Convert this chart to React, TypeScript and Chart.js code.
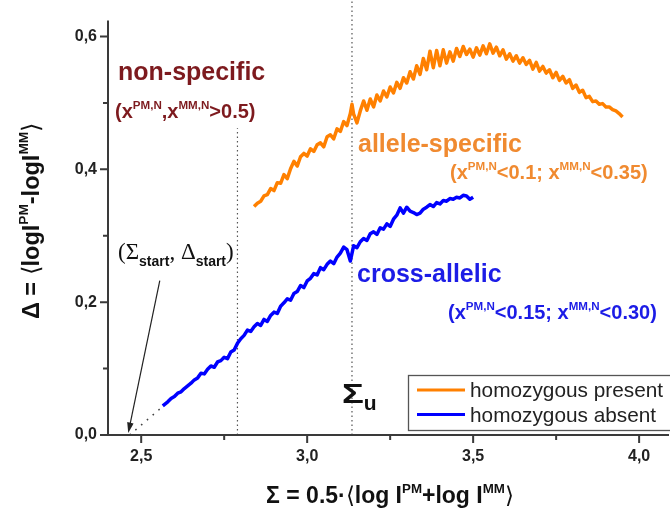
import React, { useEffect, useRef } from "react";
import { Chart, registerables } from "chart.js";

Chart.register(...registerables);

// ---------- data ----------
const seriesLabels = ["homozygous present", "homozygous absent"];
const seriesColors = ["#ff8000", "#0000ff"];

const presentX = [
  2.84, 2.85, 2.86, 2.87, 2.88, 2.89, 2.9, 2.91, 2.92, 2.93, 2.94, 2.95, 2.96, 2.97, 2.98, 2.99,
  3.0, 3.01, 3.02, 3.03, 3.04, 3.05, 3.06, 3.07, 3.08, 3.09, 3.1, 3.11, 3.12, 3.13, 3.135, 3.14,
  3.15, 3.16, 3.17, 3.18, 3.19, 3.2, 3.21, 3.22, 3.23, 3.24, 3.25, 3.26, 3.27, 3.28, 3.29, 3.3,
  3.31, 3.32, 3.33, 3.34, 3.35, 3.36, 3.37, 3.38, 3.39, 3.4, 3.41, 3.42, 3.43, 3.44, 3.45, 3.46,
  3.47, 3.48, 3.49, 3.5, 3.51, 3.52, 3.53, 3.54, 3.55, 3.56, 3.57, 3.58, 3.59, 3.6, 3.61, 3.62,
  3.63, 3.64, 3.65, 3.66, 3.67, 3.68, 3.69, 3.7, 3.71, 3.72, 3.73, 3.74, 3.75, 3.76, 3.77, 3.78,
  3.79, 3.8, 3.81, 3.82, 3.83, 3.84, 3.85, 3.86, 3.87, 3.88, 3.89, 3.9, 3.91, 3.92, 3.93, 3.94, 3.95,
];
const presentY = [
  0.344, 0.349, 0.352, 0.36, 0.362, 0.371, 0.368, 0.38, 0.379, 0.392, 0.386, 0.401, 0.412, 0.405, 0.419, 0.424,
  0.42, 0.431, 0.427, 0.437, 0.44, 0.434, 0.449, 0.452, 0.446, 0.461, 0.457, 0.472, 0.466, 0.484, 0.498, 0.483,
  0.47, 0.488, 0.503, 0.489, 0.506, 0.494, 0.512, 0.503, 0.518, 0.509, 0.524, 0.515, 0.531, 0.522, 0.538, 0.53,
  0.547, 0.536, 0.556, 0.543, 0.567, 0.55, 0.578, 0.553, 0.579, 0.556, 0.58, 0.56, 0.577, 0.563, 0.582, 0.57,
  0.585, 0.573, 0.581, 0.569, 0.583, 0.572, 0.586, 0.574, 0.589, 0.575, 0.584, 0.571, 0.58, 0.566, 0.574, 0.563,
  0.571, 0.56, 0.568, 0.558, 0.564, 0.551, 0.561, 0.548, 0.555, 0.545, 0.55, 0.538, 0.546, 0.534, 0.54, 0.53,
  0.535, 0.522, 0.527, 0.516, 0.519, 0.508, 0.51, 0.502, 0.503, 0.498, 0.499, 0.494, 0.494, 0.49, 0.488, 0.484, 0.479,
];

const absentX = [
  2.565, 2.58, 2.59, 2.6, 2.61, 2.62, 2.63, 2.64, 2.65, 2.66, 2.67, 2.68, 2.69, 2.7, 2.71, 2.72,
  2.73, 2.74, 2.75, 2.76, 2.77, 2.78, 2.79, 2.8, 2.81, 2.82, 2.83, 2.84, 2.85, 2.86, 2.87, 2.88,
  2.89, 2.9, 2.91, 2.92, 2.93, 2.94, 2.95, 2.96, 2.97, 2.98, 2.99, 3.0, 3.01, 3.02, 3.03, 3.04,
  3.05, 3.06, 3.07, 3.08, 3.09, 3.1, 3.11, 3.12, 3.13, 3.14, 3.15, 3.16, 3.17, 3.18, 3.19, 3.2,
  3.21, 3.22, 3.23, 3.24, 3.25, 3.26, 3.27, 3.28, 3.29, 3.3, 3.31, 3.32, 3.33, 3.34, 3.35, 3.36,
  3.37, 3.38, 3.39, 3.4, 3.41, 3.42, 3.43, 3.44, 3.45, 3.46, 3.47, 3.48, 3.49, 3.5,
];
const absentY = [
  0.044, 0.05, 0.055, 0.058, 0.063, 0.065, 0.07, 0.074, 0.078, 0.083, 0.086, 0.093, 0.092, 0.099, 0.104, 0.102,
  0.11, 0.112, 0.117, 0.115, 0.125, 0.128, 0.138, 0.145, 0.15, 0.158, 0.156, 0.163, 0.168, 0.165, 0.174, 0.171,
  0.18, 0.185, 0.183, 0.194, 0.199, 0.205, 0.203, 0.213, 0.216, 0.225, 0.222, 0.232, 0.236, 0.243, 0.241, 0.252,
  0.249, 0.257, 0.262, 0.258, 0.268, 0.274, 0.283, 0.279, 0.262, 0.285, 0.282, 0.291, 0.296, 0.293, 0.303, 0.306,
  0.302, 0.312, 0.31, 0.318, 0.314, 0.325, 0.331, 0.342, 0.334, 0.343, 0.337, 0.335, 0.332, 0.334, 0.34, 0.343,
  0.347, 0.344, 0.35, 0.348, 0.353, 0.352, 0.356, 0.355, 0.358, 0.357, 0.361, 0.36, 0.355, 0.358,
];

// extrapolation to the start point (Σstart, Δstart)
const startLineX = [2.465, 2.563];
const startLineY = [0.0, 0.042];

// regime boundaries (dotted verticals): x positions and their top values
const boundaryX = [2.79, 3.135];
const boundaryTop = [0.462, 0.655];

// arrow pointing at (Σstart, Δstart)
const arrowFrom = [2.556, 0.2325];
const arrowTo = [2.461, 0.003];

const xTickValues = [2.5, 3.0, 3.5, 4.0];
const xTickLabels = ["2,5", "3,0", "3,5", "4,0"];
const xMinorTicks = [2.75, 3.25, 3.75];
const yTickValues = [0, 0.2, 0.4, 0.6];
const yTickLabels = ["0,0", "0,2", "0,4", "0,6"];
const yMinorTicks = [0.1, 0.3, 0.5];

// ---------- helpers ----------
const SANS = "'Liberation Sans', Arial, sans-serif";
const SERIF = "'Liberation Serif', 'Times New Roman', serif";

type Seg = { t: string; s?: "sup" | "sub"; f?: string; w?: string; sz?: number; sx?: number };

function drawRich(
  ctx: CanvasRenderingContext2D,
  segs: Seg[],
  x: number,
  y: number,
  o: { size: number; bold?: boolean; color: string; align?: "left" | "center" | "right"; sup?: number }
) {
  const supScale = o.sup ?? 0.6;
  const fontFor = (s: Seg) => {
    const sz = s.sz ?? (s.s ? o.size * supScale : o.size);
    const w = s.w ?? (o.bold ? "bold" : "normal");
    return `${w} ${sz}px ${s.f ?? SANS}`;
  };
  const widths: number[] = [];
  let total = 0;
  for (const s of segs) {
    ctx.font = fontFor(s);
    const w = ctx.measureText(s.t).width * (s.sx ?? 1);
    widths.push(w);
    total += w;
  }
  let cx = o.align === "center" ? x - total / 2 : o.align === "right" ? x - total : x;
  ctx.fillStyle = o.color;
  ctx.textAlign = "left";
  ctx.textBaseline = "alphabetic";
  segs.forEach((s, i) => {
    ctx.font = fontFor(s);
    const dy = s.s === "sup" ? -o.size * 0.45 : s.s === "sub" ? o.size * 0.3 : 0;
    if (s.sx && s.sx !== 1) {
      ctx.save();
      ctx.translate(cx, y + dy);
      ctx.scale(s.sx, 1);
      ctx.fillText(s.t, 0, 0);
      ctx.restore();
    } else {
      ctx.fillText(s.t, cx, y + dy);
    }
    cx += widths[i];
  });
}

const overlayPlugin = {
  id: "overlay",
  afterDatasetsDraw(chart: any) {
    const ctx: CanvasRenderingContext2D = chart.ctx;
    const xs = chart.scales.x;
    const ys = chart.scales.y;
    const area = chart.chartArea;
    ctx.save();

    // axes
    ctx.strokeStyle = "#3a3a3a";
    ctx.lineWidth = 2;
    ctx.beginPath();
    ctx.moveTo(area.left, area.top);
    ctx.lineTo(area.left, area.bottom);
    ctx.lineTo(area.right, area.bottom);
    ctx.stroke();
    ctx.beginPath();
    for (const v of xTickValues) {
      const p = xs.getPixelForValue(v);
      ctx.moveTo(p, area.bottom);
      ctx.lineTo(p, area.bottom + 8);
    }
    for (const v of xMinorTicks) {
      const p = xs.getPixelForValue(v);
      ctx.moveTo(p, area.bottom);
      ctx.lineTo(p, area.bottom + 5);
    }
    for (const v of yTickValues) {
      const p = ys.getPixelForValue(v);
      ctx.moveTo(area.left, p);
      ctx.lineTo(area.left - 8, p);
    }
    for (const v of yMinorTicks) {
      const p = ys.getPixelForValue(v);
      ctx.moveTo(area.left, p);
      ctx.lineTo(area.left - 5, p);
    }
    ctx.stroke();

    // arrow
    const ax0 = xs.getPixelForValue(arrowFrom[0]);
    const ay0 = ys.getPixelForValue(arrowFrom[1]);
    const ax1 = xs.getPixelForValue(arrowTo[0]);
    const ay1 = ys.getPixelForValue(arrowTo[1]);
    ctx.strokeStyle = "#222";
    ctx.fillStyle = "#222";
    ctx.lineWidth = 1.2;
    const ang = Math.atan2(ay1 - ay0, ax1 - ax0);
    const hl = 11;
    ctx.beginPath();
    ctx.moveTo(ax0, ay0);
    ctx.lineTo(ax1 - Math.cos(ang) * hl * 0.8, ay1 - Math.sin(ang) * hl * 0.8);
    ctx.stroke();
    ctx.beginPath();
    ctx.moveTo(ax1, ay1);
    ctx.lineTo(ax1 - hl * Math.cos(ang - 0.3), ay1 - hl * Math.sin(ang - 0.3));
    ctx.lineTo(ax1 - hl * Math.cos(ang + 0.3), ay1 - hl * Math.sin(ang + 0.3));
    ctx.closePath();
    ctx.fill();

    // annotations
    const darkRed = "#7d1a1e";
    const orangeText = "#f08a30";
    const blueText = "#1c1ce6";
    drawRich(ctx, [{ t: "non-specific" }], 118, 80, { size: 25, bold: true, color: darkRed });
    drawRich(
      ctx,
      [{ t: "(x" }, { t: "PM,N", s: "sup" }, { t: ",x" }, { t: "MM,N", s: "sup" }, { t: ">0.5)" }],
      115, 118, { size: 20, bold: true, color: darkRed, sup: 0.58 }
    );
    drawRich(ctx, [{ t: "allele-specific" }], 358, 152, { size: 25, bold: true, color: orangeText });
    drawRich(
      ctx,
      [{ t: "(x" }, { t: "PM,N", s: "sup" }, { t: "<0.1; x" }, { t: "MM,N", s: "sup" }, { t: "<0.35)" }],
      450, 179, { size: 20, bold: true, color: orangeText, sup: 0.58 }
    );
    drawRich(ctx, [{ t: "cross-allelic" }], 357, 282, { size: 25, bold: true, color: blueText });
    drawRich(
      ctx,
      [{ t: "(x" }, { t: "PM,N", s: "sup" }, { t: "<0.15; x" }, { t: "MM,N", s: "sup" }, { t: "<0.30)" }],
      448, 319, { size: 20, bold: true, color: blueText, sup: 0.58 }
    );
    drawRich(
      ctx,
      [
        { t: "(Σ", f: SERIF, w: "normal" },
        { t: "start", s: "sub", w: "bold", sz: 14 },
        { t: ", Δ", f: SERIF, w: "normal" },
        { t: "start", s: "sub", w: "bold", sz: 14 },
        { t: ")", f: SERIF, w: "normal" },
      ],
      118, 259, { size: 23, color: "#111" }
    );
    drawRich(
      ctx,
      [{ t: "Σ", f: SANS, w: "bold", sz: 28, sx: 1.3 }, { t: "u", s: "sub", w: "bold", sz: 21 }],
      342, 403, { size: 24, color: "#111" }
    );

    // axis titles
    drawRich(
      ctx,
      [
        { t: "Σ = 0.5·" },
        { t: "⟨", w: "normal" },
        { t: "log I" },
        { t: "PM", s: "sup" },
        { t: "+log I" },
        { t: "MM", s: "sup" },
        { t: "⟩", w: "normal" },
      ],
      390, 503, { size: 23, bold: true, color: "#111", align: "center", sup: 0.58 }
    );
    ctx.save();
    ctx.translate(39, 221);
    ctx.rotate(-Math.PI / 2);
    drawRich(
      ctx,
      [
        { t: "Δ = " },
        { t: "⟨", w: "normal" },
        { t: "logI" },
        { t: "PM", s: "sup" },
        { t: "-logI" },
        { t: "MM", s: "sup" },
        { t: "⟩", w: "normal" },
      ],
      0, 0, { size: 23.5, bold: true, color: "#111", align: "center", sup: 0.58 }
    );
    ctx.restore();

    // legend
    const lx = 408, ly = 375, lw = 264, lh = 55;
    ctx.fillStyle = "#ffffff";
    ctx.fillRect(lx, ly, lw, lh);
    ctx.strokeStyle = "#555";
    ctx.lineWidth = 1.3;
    ctx.strokeRect(lx + 0.5, ly + 0.5, lw, lh);
    seriesLabels.forEach((lab, i) => {
      const yy = ly + 15 + i * 24.5;
      ctx.strokeStyle = seriesColors[i];
      ctx.lineWidth = 3;
      ctx.beginPath();
      ctx.moveTo(417, yy);
      ctx.lineTo(465, yy);
      ctx.stroke();
      drawRich(ctx, [{ t: lab }], 470, yy + 7, { size: 20.8, color: "#222" });
    });

    ctx.restore();
  },
};

export default function App() {
  const ref = useRef<HTMLCanvasElement | null>(null);
  useEffect(() => {
    if (!ref.current) return;
    const toPts = (xs: number[], ys: number[]) => xs.map((x, i) => ({ x, y: ys[i] }));
    const tickFont = { family: SANS, size: 16, weight: "bold" as const };
    const chart = new Chart(ref.current, {
      type: "line",
      data: {
        datasets: [
          {
            label: seriesLabels[0],
            data: toPts(presentX, presentY),
            borderColor: seriesColors[0],
            borderWidth: 3.5,
            pointRadius: 0,
            borderJoinStyle: "round",
            tension: 0,
          },
          {
            label: seriesLabels[1],
            data: toPts(absentX, absentY),
            borderColor: seriesColors[1],
            borderWidth: 3.5,
            pointRadius: 0,
            borderJoinStyle: "round",
            tension: 0,
          },
          {
            label: "start",
            data: toPts(startLineX, startLineY),
            borderColor: "#444",
            borderWidth: 1.6,
            borderDash: [1.6, 6],
            pointRadius: 0,
          },
          {
            label: "b1",
            data: [
              { x: boundaryX[0], y: 0 },
              { x: boundaryX[0], y: boundaryTop[0] },
            ],
            borderColor: "#555",
            borderWidth: 1.2,
            borderDash: [1.5, 3],
            pointRadius: 0,
          },
          {
            label: "b2",
            data: [
              { x: boundaryX[1], y: 0 },
              { x: boundaryX[1], y: boundaryTop[1] },
            ],
            borderColor: "#555",
            borderWidth: 1.2,
            borderDash: [1.5, 3],
            pointRadius: 0,
            clip: false as any,
          },
        ],
      },
      options: {
        animation: false,
        responsive: false,
        layout: { padding: { top: 20, right: 1, left: 0, bottom: 0 } },
        plugins: { legend: { display: false }, tooltip: { enabled: false } },
        scales: {
          x: {
            type: "linear",
            min: 2.4,
            max: 4.09,
            afterBuildTicks: (s: any) => {
              s.ticks = xTickValues.map((v) => ({ value: v }));
            },
            afterFit: (s: any) => {
              s.height = 75;
            },
            ticks: {
              callback: (_v: any, i: number) => xTickLabels[i] ?? "",
              font: tickFont,
              color: "#222",
              padding: 12,
              maxRotation: 0,
              autoSkip: false,
            },
            grid: { display: false, drawTicks: false },
            border: { display: false },
          },
          y: {
            type: "linear",
            min: 0,
            max: 0.624,
            afterBuildTicks: (s: any) => {
              s.ticks = yTickValues.map((v) => ({ value: v }));
            },
            afterFit: (s: any) => {
              s.width = 108;
            },
            ticks: {
              callback: (_v: any, i: number) => yTickLabels[i] ?? "",
              font: tickFont,
              color: "#222",
              padding: 11,
              autoSkip: false,
            },
            grid: { display: false, drawTicks: false },
            border: { display: false },
          },
        },
      },
      plugins: [overlayPlugin],
    });
    return () => chart.destroy();
  }, []);
  return (
    <div style={{ position: "absolute", left: 0, top: 0, width: 670, height: 510, background: "#fff" }}>
      <canvas ref={ref} width={670} height={510} />
    </div>
  );
}
